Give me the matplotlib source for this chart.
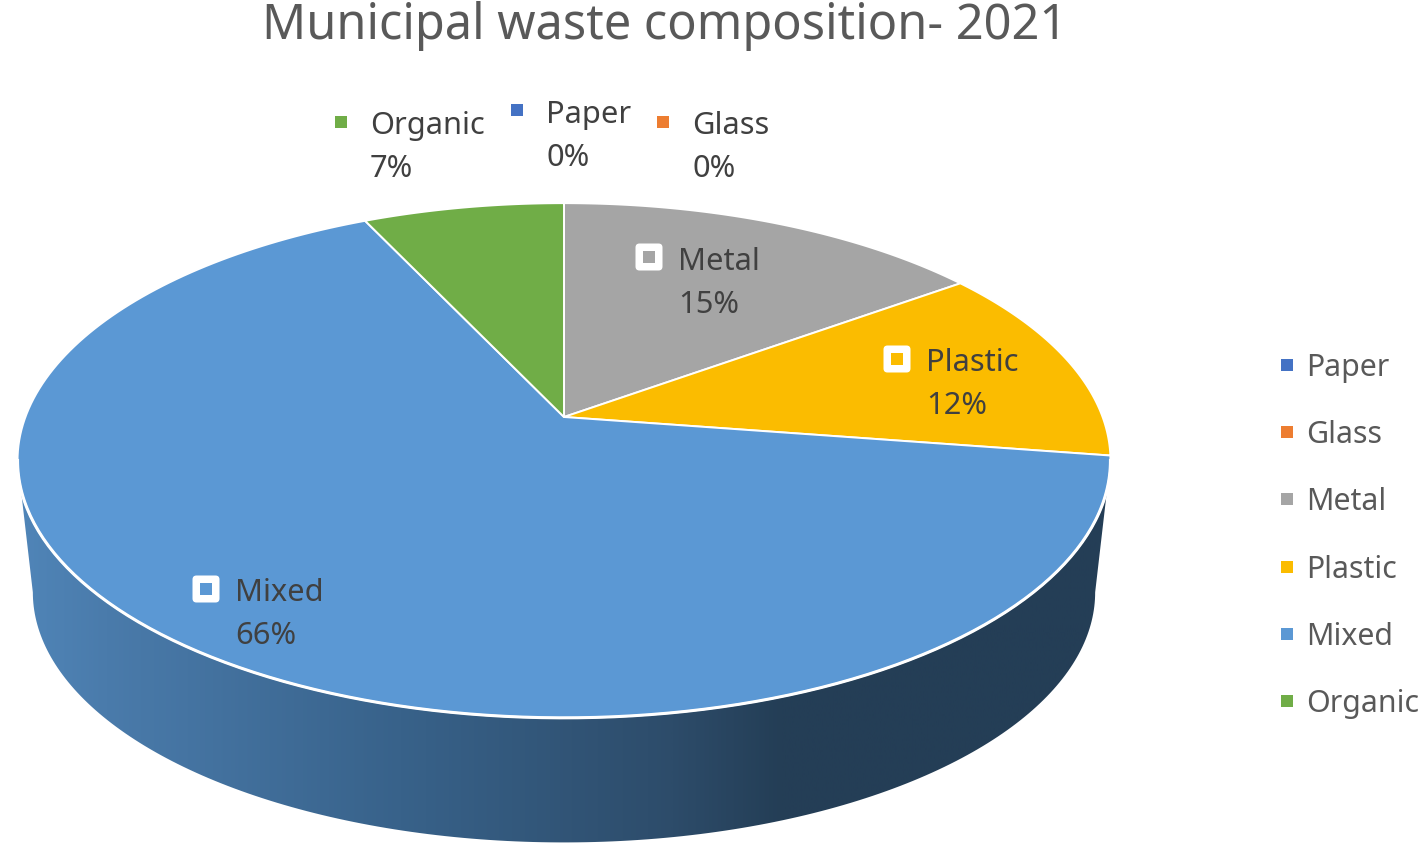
import matplotlib
matplotlib.use('Agg')
import matplotlib.pyplot as plt
import numpy as np
from matplotlib.colors import LinearSegmentedColormap
from matplotlib.patches import FancyBboxPatch, Polygon, Rectangle

# data
categories = ['Paper', 'Glass', 'Metal', 'Plastic', 'Mixed', 'Organic']
shares = [0.0, 0.0, 15.0, 12.4, 65.6, 7.0]
shown_pct = ['0%', '0%', '15%', '12%', '66%', '7%']
colors = ['#4472C4', '#ED7D31', '#A5A5A5', '#FBBC00', '#5B98D4', '#70AD47']

W, H = 1421, 858
plt.rcParams['font.family'] = ['Noto Sans', 'DejaVu Sans']

fig = plt.figure(figsize=(W / 100, H / 100), dpi=100)
ax = fig.add_axes([0, 0, 1, 1])

# pie is a circle seen in perspective, the apex sits above the centre of the ellipse
CX, CY = 564, 417
A, B, K = 538.6, 250.0, 0.169


def rim(theta, scale=1.0, dy=0.0):
    # theta in radians, clockwise from 12 o'clock
    u, v = np.sin(theta), np.cos(theta)
    d = 1 + K * v
    return CX + scale * A * u / d, CY + dy - scale * B * v / d


# side of the pie: lower half of a slightly smaller rim, shifted down
SIDE_SCALE, SIDE_DY = 0.972, 133
t_wide = np.arccos(-K)
t_low = np.linspace(t_wide, 2 * np.pi - t_wide, 200)
bx, by = rim(t_low, SIDE_SCALE, SIDE_DY)
tx0, ty0 = rim(t_wide)
tx1, ty1 = rim(2 * np.pi - t_wide)
side_xy = np.vstack([[tx0, ty0], np.column_stack([bx, by]), [tx1, ty1]])
side = Polygon(side_xy, closed=True, fc='none', ec='none')
ax.add_patch(side)

side_cmap = LinearSegmentedColormap.from_list('side', [
    (0.0, '#5085B8'), (0.08, '#4A7BAB'), (0.35, '#38628A'),
    (0.60, '#2D4C6A'), (0.70, '#243E56'), (1.0, '#243E56')])
grad = np.linspace(0, 1, 512).reshape(1, -1)
im = ax.imshow(grad, cmap=side_cmap, extent=[17, 1110, 858, 400], aspect='auto', zorder=1)
im.set_clip_path(side)

# top of the pie, one polygon per slice
edges = np.cumsum([0] + shares) / sum(shares) * 2 * np.pi
for i, name in enumerate(categories):
    if shares[i] == 0:
        continue
    t = np.linspace(edges[i], edges[i + 1], 200)
    x, y = rim(t)
    pts = np.vstack([[CX, CY], np.column_stack([x, y])])
    ax.add_patch(Polygon(pts, closed=True, fc=colors[i], ec='white', lw=1.4,
                         joinstyle='round', zorder=2))

# the white rim is a bit heavier where it meets the side
rx, ry = rim(t_low)
ax.plot(rx, ry, color='white', lw=2.2, zorder=3)

# data labels: (marker x, marker y, text x, first baseline)
label_pos = {
    'Organic': (341, 122, 370, 134),
    'Paper': (517, 110, 546, 123),
    'Glass': (663, 122, 692, 134),
    'Metal': (649, 257, 678, 270),
    'Plastic': (897, 359, 926, 371),
    'Mixed': (206, 589, 235, 601),
}
LINE = 43
for i, name in enumerate(categories):
    mx, my, tx, ty = label_pos[name]
    if shares[i] > 10:
        ax.add_patch(FancyBboxPatch((mx - 11, my - 11), 22, 22,
                                    boxstyle='round,pad=2.5,rounding_size=4',
                                    fc='white', ec='none', zorder=3))
    ax.add_patch(Rectangle((mx - 6, my - 6), 12, 12, fc=colors[i], ec='none', zorder=4))
    ax.text(tx, ty, name, fontsize=22.2, color='#404040', va='baseline', zorder=4)
    ax.text(tx, ty + LINE, shown_pct[i], fontsize=22.2, color='#404040', va='baseline', zorder=4)

# legend
legend_y = [365, 432, 499, 567, 634, 701]
for i, name in enumerate(categories):
    ax.add_patch(Rectangle((1281, legend_y[i] - 6), 12, 12, fc=colors[i], ec='none'))
    ax.text(1306, legend_y[i] + 11, name, fontsize=21.8, color='#595959', va='baseline')

ax.text(665, 39, 'Municipal waste composition- 2021', fontsize=35.1, color='#595959',
        ha='center', va='baseline')

ax.set_xlim(0, W)
ax.set_ylim(H, 0)
ax.axis('off')
fig.savefig('out.png', dpi=100, facecolor='white')
